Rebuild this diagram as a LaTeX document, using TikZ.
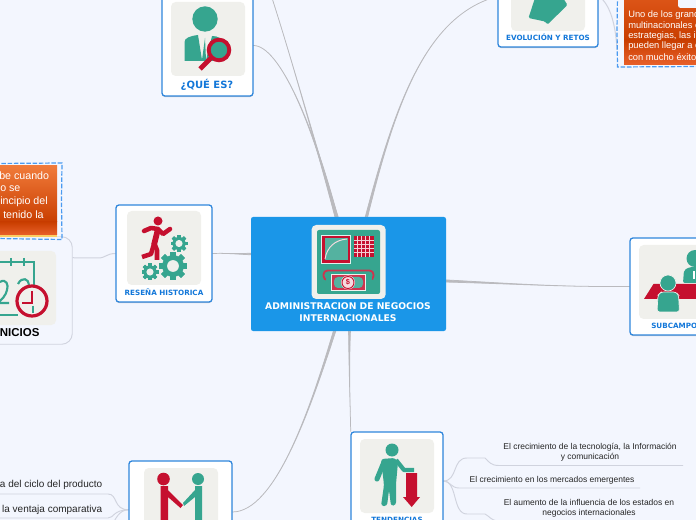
\documentclass[tikz,border=0pt]{standalone}
\usepackage{fontspec}
\setmainfont{Liberation Sans}
\newfontfamily\vfont{DejaVu Sans}
\usetikzlibrary{fit,calc,shadows}
\definecolor{pagebg}{HTML}{F3F6FE}
\definecolor{teal}{HTML}{36A58F}
\definecolor{crim}{HTML}{C5102F}
\definecolor{iconbg}{HTML}{F0F0EC}
\definecolor{cardblue}{HTML}{2F86DC}
\definecolor{labelblue}{HTML}{1277D9}
\definecolor{cenblue}{HTML}{1A96E8}
\definecolor{conn}{HTML}{BABABE}
\definecolor{thinc}{HTML}{D0D3DE}
\definecolor{dashblue}{HTML}{4A9AF0}
\definecolor{orTop}{HTML}{F07A3A}
\definecolor{orMid}{HTML}{C93E00}
\definecolor{orBot}{HTML}{E8602A}
\definecolor{orTopR}{HTML}{E0591C}
\tikzset{
  card/.style={draw=cardblue,line width=.95pt,fill=white,rounded corners=2.2pt,inner sep=0pt,
    drop shadow={shadow xshift=0pt,shadow yshift=-.8pt,opacity=.3,fill=black!60}},
  iconbox/.style={fill=iconbg,draw=none,rounded corners=3.5pt,inner sep=0pt},
  cardlabel/.style={font=\vfont\bfseries\fontsize{5.4}{7}\selectfont,text=labelblue,inner sep=0pt},
  bodytext/.style={font=\fontsize{6.35}{7.7}\selectfont,text=black!85,align=center,inner sep=0pt},
  sidetext/.style={font=\fontsize{7.5}{9}\selectfont,text=black!85,inner sep=0pt,anchor=east},
  boxtext/.style={font=\fontsize{7}{7.9}\selectfont,text=white,align=left,inner sep=0pt,anchor=west},
  boxtextL/.style={font=\fontsize{8}{9}\selectfont,text=white,align=left,inner sep=0pt,anchor=west},
  thinline/.style={draw=thinc,line width=.7pt},
  dashbox/.style={draw=dashblue,line width=.9pt,dash pattern=on 3.4pt off 1.3pt,inner sep=0pt},
  tealfill/.style={fill=teal,draw=none},
  redfill/.style={fill=crim,draw=none},
}
\newcommand{\taperline}[5]{\filldraw[fill=conn,draw=conn,line width=.55pt] ([xshift=-#5]#1) .. controls #2 and #3 .. (#4) .. controls #3 and #2 .. ([xshift=#5]#1) -- cycle;}
\newcommand{\gearicon}[3]{%
  \foreach \ang in {0,45,...,315}{\fill[teal,rotate around={\ang:(#1,#2)}] ($(#1,#2)+(-#3*.2,-#3)$) rectangle ($(#1,#2)+(#3*.2,#3)$);}
  \fill[teal] (#1,#2) circle[radius=#3*.78];
  \fill[iconbg] (#1,#2) circle[radius=#3*.42];
}
\begin{document}
\begin{tikzpicture}[x=.75pt,y=-.75pt]
\path[use as bounding box] (0,0) rectangle (696,520);
\clip (0,0) rectangle (696,520);
\fill[pagebg] (0,0) rectangle (696,520);

% named frames
\coordinate (a1) at (251,217); \coordinate (a2) at (446,331);
\node[fit={(a1)(a2)},inner sep=0pt] (cen) {};
\coordinate (b1) at (162,-5); \coordinate (b2) at (253,96);
\node[fit={(b1)(b2)},inner sep=0pt] (que) {};
\coordinate (c1) at (498,-10); \coordinate (c2) at (598,47);
\node[fit={(c1)(c2)},inner sep=0pt] (evo) {};
\coordinate (d1) at (116,205); \coordinate (d2) at (212,302);
\node[fit={(d1)(d2)},inner sep=0pt] (res) {};
\coordinate (e1) at (-30,237); \coordinate (e2) at (72,344);
\node[fit={(e1)(e2)},inner sep=0pt] (ini) {};
\coordinate (f1) at (630,238); \coordinate (f2) at (760,335);
\node[fit={(f1)(f2)},inner sep=0pt] (sub) {};
\coordinate (g1) at (351,432); \coordinate (g2) at (443,530);
\node[fit={(g1)(g2)},inner sep=0pt] (ten) {};
\coordinate (h1) at (129,461); \coordinate (h2) at (232,563);
\node[fit={(h1)(h2)},inner sep=0pt] (han) {};
\coordinate (topA) at (272,-2);
\coordinate (topB) at (492,-2);
\coordinate (cT1) at ($(cen.north)+(-12,0)$);
\coordinate (cT2) at ($(cen.north)+(18,0)$);
\coordinate (cL) at ($(cen.west)+(0,-20)$);
\coordinate (cR) at ($(cen.east)+(0,7)$);
\coordinate (cB1) at ($(cen.south)+(-14,0)$);
\coordinate (cB2) at ($(cen.south)+(1,0)$);
\coordinate (tenTop) at ($(ten.north west)+(0,0)$);
\coordinate (iniE) at ($(ini.north east)+(0,21)$);

% connectors
\taperline{cT1}{(320,160)}{(292,60)}{topA}{1.2pt}
\taperline{cT1}{(315,130)}{(280,45)}{que.east}{.9pt}
\taperline{cT2}{(395,105)}{(425,20)}{topB}{.9pt}
\filldraw[fill=conn,draw=conn,line width=.55pt] ([yshift=-.6pt]cL) .. controls (235,254) and (225,253) .. (res.east) .. controls (225,253) and (235,254) .. ([yshift=.6pt]cL) -- cycle;
\filldraw[fill=conn,draw=conn,line width=.55pt] ([yshift=-.8pt]cR) .. controls (520,284) and (560,287) .. (sub.west) .. controls (560,287) and (520,284) .. ([yshift=.8pt]cR) -- cycle;
\taperline{cB1}{(310,410)}{(275,512)}{han.east}{.9pt}
\taperline{cB2}{(349,370)}{(350,400)}{tenTop}{.7pt}
\draw[thinline,line width=.75pt] (res.west) .. controls (106,253.5) and (106,258) .. (98,258) -- (iniE);

\coordinate (orL) at (617,50);
\draw[thinline,line width=.75pt] (601,-2) .. controls (612,8) and (616,30) .. (orL);

% INICIOS
\draw[draw=thinc,line width=.7pt,fill=pagebg,rounded corners=8pt] (ini.south west) rectangle (ini.north east);
\node[iconbox,fit={(-24,251)(56,325)}] (iniicon) {};
\draw[teal,line width=1.6pt] (0,262) -- (34,262) -- (34,287);
\draw[teal,line width=1.6pt] (11,258) -- (11,266) (24,258) -- (24,266);
\draw[teal,line width=1.6pt] (-2,315) -- (18,315);
\draw[teal,line width=1.6pt] (0,282) .. controls (6,278) and (9,285) .. (7,290) .. controls (6,295) and (2,300) .. (-3,303) -- (9,303);
\draw[teal,line width=1.6pt] (18,284) .. controls (22,276) and (29,279) .. (29,285);
\fill[iconbg] (32,301) circle[radius=15];
\draw[crim,line width=2.4pt] (32,301) circle[radius=15];
\draw[crim,line width=1.3pt] (32,291) -- (32,303) -- (22,303);
\draw[teal,line width=1.4pt] (33,306) -- (33,313);
\node[font=\bfseries\fontsize{8.6}{10}\selectfont,text=black,inner sep=0pt,anchor=west] (initxt) at (-3.5,333) {INICIOS};

% left orange box
\shade[top color=orTop,bottom color=orMid] (-5,166) rectangle (57,222);
\shade[top color=orMid,bottom color=orBot] (-5,222) rectangle (57,235);
\fill[yellow!40!orange!60!white] (-5,235) rectangle (57,237);
\draw[dashbox] (-5,163.5) -- (62,163) -- (61.5,200) -- (62,239.5) -- (-5,238.5);
\node[boxtextL] (lb1) at (-1,175.5) {be cuando};
\node[boxtextL] (lb2) at (0,188.5) {o se};
\node[boxtextL] (lb3) at (0,201.5) {incipio del};
\node[boxtextL] (lb4) at (3,214.5) {tenido la};

% top right orange box
\shade[top color=orTopR,bottom color=orMid] (624,-10) rectangle (700,40);
\shade[top color=orMid,bottom color=orBot] (624,40) rectangle (700,65);
\fill[pagebg,rounded corners=2pt] (678,-5) rectangle (700,8);
\draw[dashbox] (617.5,-5) -- (617,30) -- (617.5,67) -- (700,66.5);
\node[boxtext] (rb1) at (628,15) {Uno de los grand};
\node[boxtext] (rb2) at (628,25.5) {multinacionales e};
\node[boxtext] (rb3) at (628,36) {estrategias, las in};
\node[boxtext] (rb4) at (628,46.5) {pueden llegar a c};
\node[boxtext] (rb5) at (628,57) {con mucho éxito.};

% centre
\node[fit={(a1)(a2)},inner sep=0pt,fill=cenblue,rounded corners=1.6pt] (cenbox) {};
\fill[iconbg,rounded corners=3.5pt] (311.5,225) rectangle (385.7,299);
\fill[teal,rounded corners=1.5pt] (317,230) rectangle (380,294);
\fill[white!85!teal] (321,235) rectangle (351,264);
\fill[crim] (322,236) rectangle (350,263);
\fill[teal!85!white] (324.5,238.5) rectangle (347.5,260.5);
\draw[white!85!crim,line width=.7pt] (325,259) .. controls (327,247) and (335,240) .. (347,239);
\fill[crim] (354,236) rectangle (374,257);
\foreach \gx in {357.5,361.5,365.5,369.5}{\draw[white!80!crim,line width=.5pt] (\gx,236) -- (\gx,257);}
\foreach \gy in {240,244,248,252}{\draw[white!80!crim,line width=.5pt] (354,\gy) -- (374,\gy);}
\draw[crim!85!white,line width=1.4pt,fill=teal,rounded corners=3pt] (323.5,270.5) rectangle (373.5,280);
\fill[teal] (326,276) rectangle (372,282);
\fill[iconbg] (331,274) rectangle (366,291);
\fill[crim!85!white] (332,275) rectangle (365,290);
\fill[teal!85!white,rounded corners=3pt] (334,277) rectangle (363,288);
\fill[white!85!crim] (348,282.5) circle[radius=7];
\draw[crim,line width=.7pt] (348,282.5) circle[radius=6];
\node[font=\fontsize{5.5}{6}\bfseries\selectfont,text=crim,inner sep=0pt] (dollar) at (348,282.5) {\$};
\node[font=\vfont\bfseries\fontsize{6.9}{9}\selectfont,text=white,align=center,inner sep=0pt] (centxt) at (348,312) {ADMINISTRACION DE NEGOCIOS\\INTERNACIONALES};

% QUE ES
\node[card,fit={(b1)(b2)}] (quebox) {};
\node[iconbox,fit={(171,2)(245,76)}] (queicon) {};
\fill[teal] (205,19) circle[radius=12.7];
\path[tealfill] (184.5,61) -- (184.5,42) .. controls (184.5,38) and (190,36) .. (198,35) -- (202,60) -- (205,38) -- (206,60) -- (212,36) .. controls (218,36) and (222,38) .. (224,45) -- (215,61) -- cycle;
\fill[teal] (218.5,50) circle[radius=11];
\draw[crim,line width=2.9pt,fill=teal] (219,50) circle[radius=10.3];
\draw[crim,line width=3.6pt] (211,58) -- (200,69);
\node[font=\vfont\bfseries\fontsize{7.5}{9}\selectfont,text=labelblue,inner sep=0pt] (quetxt) at (207,84.5) {¿QUÉ ES?};

% EVOLUCION
\node[card,fit={(c1)(c2)}] (evobox) {};
\node[iconbox,fit={(511,-20)(585,31)}] (evoicon) {};
\path[tealfill,rounded corners=1pt] (535,-2) -- (528.5,18) -- (545,21.5) -- (547.5,24.5) -- (567.5,5) -- (563,-2) -- cycle;
\node[cardlabel] (evotxt) at (548,37.5) {EVOLUCIÓN Y RETOS};

% RESENA
\node[card,fit={(d1)(d2)}] (resbox) {};
\node[iconbox,fit={(127,211)(201,285)}] (resicon) {};
\fill[crim] (158,221) circle[radius=4.5];
\draw[crim,line width=3.4pt,line cap=round,line join=round] (144,231) -- (151,228) -- (158,229) -- (163,234) -- (170,229);
\draw[crim,line width=4.3pt,line join=round] (158,229) -- (154,245);
\draw[crim,line width=3.4pt,line join=round] (154,244) -- (151,254) -- (142,257);
\draw[crim,line width=3.4pt,line join=round] (155,245) -- (157,250) -- (157,260);
\gearicon{173}{266}{14}
\gearicon{179}{243.5}{8.5}
\gearicon{150}{272}{8.5}
\node[cardlabel] (restxt) at (164,292) {RESEÑA HISTORICA};

% SUBCAMPOS
\node[card,fit={(f1)(f2)}] (subbox) {};
\node[iconbox,fit={(639,245)(730,319)}] (subicon) {};
\fill[teal] (695,258.5) circle[radius=8.5];
\path[tealfill,rounded corners=1.5pt] (683,283) -- (684,270) -- (690,267) -- (700,267) -- (700,283) -- cycle;
\fill[white] (693,271) rectangle (695,279);
\path[redfill] (644,299) -- (653.5,284) -- (700,284) -- (700,299) -- cycle;
\fill[teal] (668,283) circle[radius=8];
\draw[iconbg,line width=.5pt] (668,283) circle[radius=8];
\path[tealfill,rounded corners=2pt,draw=iconbg,line width=.5pt] (657,312) -- (658,295) -- (661,292) -- (676,292) -- (678.5,295) -- (679.5,312) -- cycle;
\node[font=\vfont\bfseries\fontsize{5.4}{7}\selectfont,text=labelblue,inner sep=0pt,anchor=west] (subtxt) at (651,325.5) {SUBCAMPOS};

% TENDENCIAS branches
\coordinate (u1a) at (499,465.5); \coordinate (u1b) at (683,465.5);
\coordinate (u2a) at (459,488); \coordinate (u2b) at (640,488);
\draw[thinline] (ten.east) .. controls (458,481) and (452,458) .. (467,458) -- (485,458) .. controls (489,462) and (491,465.5) .. (u1a) -- (u1b);
\draw[thinline] (ten.east) .. controls (450,481) and (451,488) .. (u2a) -- (u2b);
\draw[thinline] (ten.east) .. controls (458,481) and (452,514) .. (467,514) -- (485,514) .. controls (489,516) and (491,520) .. (497,521);
\node[bodytext] (t1) at (590,452) {El crecimiento de la tecnología, la Información\\y comunicación};
\node[bodytext] (t2) at (552,480) {El crecimiento en los mercados emergentes};
\node[bodytext] (t3) at (589,508) {El aumento de la influencia de los estados en\\negocios internacionales};

% TENDENCIAS card
\node[card,fit={(g1)(g2)}] (tenbox) {};
\node[iconbox,fit={(360,439)(434,513)}] (tenicon) {};
\fill[teal] (392,450) circle[radius=6.5];
\path[tealfill,rounded corners=2pt] (381,459) -- (395,458) -- (398,462) -- (396,484) -- (396,505) -- (391,506) -- (389,490) -- (387,506) -- (381,506) -- (384,485) -- cycle;
\draw[teal,line width=3.8pt,line cap=round,line join=round] (384,462) -- (377,479);
\draw[teal,line width=3.2pt,line join=round] (396,460) -- (404,470) -- (414,470);
\path[redfill] (406,473) -- (417,473) -- (417,497) -- (420,497) -- (411.7,507) -- (403,497) -- (406,497) -- cycle;
\node[cardlabel] (tentxt) at (397,519.5) {TENDENCIAS};

% handshake branches
\coordinate (v1) at (-3,494); \coordinate (v2) at (-3,518);
\coordinate (hw) at ($(han.north west)+(0,49)$);
\draw[thinline] (v1) -- (108,494) .. controls (118,494) and (113,510) .. (hw);
\draw[thinline] (v2) -- (108,518) .. controls (114,518) and (113,510) .. (hw);
\draw[thinline] (hw) .. controls (118,510) and (116,520) .. (112,524);
\node[sidetext] (h1t) at (102.5,484.5) {a del ciclo del producto};
\node[sidetext] (h2t) at (102.5,509.5) {la ventaja comparativa};

% handshake card
\node[card,fit={(h1)(h2)}] (hanbox) {};
\node[iconbox,fit={(144,468)(218,540)}] (hanicon) {};
\fill[crim] (163.5,479) circle[radius=6.3];
\fill[teal] (198,479) circle[radius=6];
\path[redfill] (160.5,486) -- (168,486) -- (168,490) -- (183,505) -- (180.5,508) -- (168,497) -- (168,525) -- (160.5,525) -- cycle;
\path[tealfill] (202,486) -- (195,486) -- (195,490) -- (183,503) -- (184,506) -- (195,497) -- (195,525) -- (202,525) -- cycle;
\end{tikzpicture}
\end{document}
